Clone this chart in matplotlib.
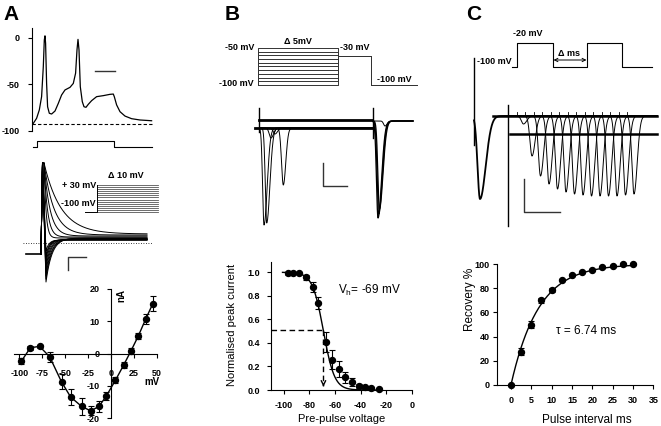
import numpy as np
import matplotlib
matplotlib.use("Agg")
import matplotlib.pyplot as plt
from matplotlib.ticker import FormatStrFormatter

plt.rcParams['font.family'] = ['Liberation Sans', 'DejaVu Sans']
plt.rcParams['mathtext.fontset'] = 'custom'
plt.rcParams['mathtext.rm'] = 'Liberation Sans'
plt.rcParams['mathtext.it'] = 'Liberation Sans:italic'
plt.rcParams['axes.unicode_minus'] = False

W, H, DPI = 661, 426, 100

# ---------------- data ----------------
# Panel A top: current-clamp firing trace (ms, mV)
ap_t = [0, 3.3, 6, 8.3, 10, 11, 11.7, 12.3, 13.3, 14.3, 16, 18.3, 21.7, 25, 28.3, 31.7,
        36.7, 40, 42.3, 43.7, 44.7, 45.7, 47, 49, 50.7, 52.7, 55, 58.3, 63.3, 70, 76.7,
        80, 81, 83.3, 86.7, 91.7, 98.3, 106.7, 118.3]
ap_v = [-91.8, -86.4, -77.5, -63.2, -31.1, -2.5, 2.0, -6, -49, -74, -81, -81.8, -78.6,
        -70.4, -61.4, -56, -53.2, -49, -38, -13, -1.8, -13, -52.5, -68.6, -74, -74.6,
        -71.4, -67.5, -63.2, -62.1, -60.7, -60.4, -63.2, -72, -79.3, -84, -86.8, -88.2, -89]
rest_v = -92
a_stim_t = [0, 3.3, 3.3, 81, 81, 118.3]
a_stim_lvl = [0, 0, 1, 1, 0, 0]

# Panel A middle: step-evoked currents (arbitrary units)
a_steps_mv = list(range(-100, 31, 10))
out_tau = [17, 10, 6, 3.5, 2]            # +30 .. -10 mV
out_end = [20, 19, 18, 17, 16]
in_dip = [-28, -25, -22, -18, -14, -10, -6, -2, 3]   # -20 .. -100 mV
in_end = [16, 15.5, 15, 15, 14.5, 14.5, 14, 14, 14]
in_tau = [6, 5.5, 5, 4.5, 4, 3.5, 3, 3, 3]

# Panel A bottom: I-V relation
iv_v = [-98, -88, -78, -67, -54, -44, -32, -22, -13, -5, 5, 14, 22, 30, 38, 46]
iv_i = [-2.4, 1.8, 2.2, -1.0, -8.8, -13.5, -16.4, -17.8, -16.4, -13.2, -8.3, -3.6, 0.8, 5.4, 10.6, 15.5]
iv_err = [0.9, 0.6, 0.5, 1.5, 2.3, 2.6, 2.6, 1.4, 1.8, 1.3, 0.9, 1.0, 1.0, 1.0, 1.5, 2.3]

# Panel B top: protocol and currents
b_pre_mv = list(range(-100, -49, 5))
b_dip_t = [14, 16.7, 21, 25, 33.3]
b_dip_depth = [-97, -95, -10, -6, -57]
b_dip2_t = [128, 128.7, 129.4]
b_dip2_depth = [-97, -93, -88]

# Panel B bottom: steady-state inactivation
ssi_v = [-97, -92.5, -88, -83, -77.5, -73, -67, -62, -57, -52, -47, -41.5, -36.5, -31.5, -25.5]
ssi_i = [0.99, 0.995, 0.995, 0.957, 0.875, 0.739, 0.41, 0.256, 0.18, 0.108, 0.065, 0.034, 0.023, 0.014, 0.006]
ssi_err = [0.01, 0.01, 0.01, 0.02, 0.04, 0.055, 0.085, 0.08, 0.07, 0.045, 0.035, 0.02, 0.015, 0.01, 0.01]
v_half, k_slope = -69, 4.3

# Panel C top: paired-pulse currents
c_dip_t = [63.5 + 8.5 * i for i in range(14)]
c_dip_depth = [-8, -40, -60, -68, -73, -76, -78, -79, -80, -80, -80, -80, -79, -78]

# Panel C bottom: recovery from inactivation
rec_t = [0, 2.5, 5, 7.5, 10, 12.5, 15, 17.5, 20, 22.5, 25, 27.5, 30]
rec_p = [0, 27.4, 50, 70, 78.5, 87, 91, 93.5, 95, 97.3, 98.6, 100, 100]
rec_err = [0, 3, 3, 2, 1.5, 1, 1, 1, 1, 1, 0.5, 0.5, 0.5]
tau_rec = 6.74

# ---------------- figure ----------------
fig = plt.figure(figsize=(W / DPI, H / DPI), dpi=DPI)


def box(x0, y0, x1, y1):
    return fig.add_axes([x0 / W, 1 - y1 / H, (x1 - x0) / W, (y1 - y0) / H])


def ftext(x, y, s, **kw):
    kw.setdefault('va', 'center')
    fig.text(x / W, 1 - y / H, s, **kw)


def adip(t, tm, depth, wl, wr):
    w = np.where(t < tm, wl, wr)
    return depth * np.exp(-((t - tm) / w) ** 2)


TK = dict(fontsize=6.5, fontweight='bold')
LW = 0.8


def style_axes(ax):
    for s in ['top', 'right']:
        ax.spines[s].set_visible(False)
    for s in ['left', 'bottom']:
        ax.spines[s].set_linewidth(LW)
    ax.tick_params(width=LW, length=3, direction='out')
    for lab in ax.get_xticklabels() + ax.get_yticklabels():
        lab.set_fontsize(6.5)
        lab.set_fontweight('bold')


# panel letters
for x, s in [(3, 'A'), (225, 'B'), (466, 'C')]:
    fig.text(x / W, 1 - 20 / H, s, fontsize=15, fontweight='bold', va='baseline')

# ---- A top ----
ax = box(32, 28, 155, 131)
ax.plot(ap_t, ap_v, color='k', lw=0.9)
ax.plot([-1.7, 118.3], [rest_v, rest_v], color='k', lw=0.8, ls=(0, (3, 2)))
ax.plot([61.5, 81.5], [-36, -36], color='#333333', lw=1.0)
ax.set_xlim(-1.3, 121.7)
ax.set_ylim(-100, 10.4)
ax.set_yticks([0, -50, -100])
ax.set_xticks([])
ax.spines['bottom'].set_visible(False)
style_axes(ax)
ax.tick_params(axis='y', pad=6)

ax = box(32, 136, 155, 150)
ax.plot(a_stim_t, a_stim_lvl, color='k', lw=0.8)
ax.set_xlim(-1.3, 121.7)
ax.set_ylim(-0.636, 1.909)
ax.axis('off')

# ---- A middle ----
ax = box(20, 150, 170, 290)
ax.set_xlim(0, 150)
ax.set_ylim(-36, 104)
ax.axis('off')
t = np.linspace(24, 127, 500)
ax.plot([6, 21], [0, 0], color='k', lw=1.2)
for tau, end in zip(out_tau, out_end):
    y = end + (91 - end) * np.exp(-(t - 24) / tau)
    ax.plot(np.r_[21, 22.5, t], np.r_[0, 91, y], color='k', lw=0.7)
t2 = np.linspace(26, 127, 500)
for d, end, tau in zip(in_dip, in_end, in_tau):
    y = end + (d - end) * np.exp(-(t2 - 26) / tau)
    ax.plot(np.r_[21, 22.5, t2], np.r_[0, 91, y], color='k', lw=0.7)
ax.plot([3, 133], [11, 11], color='k', lw=0.6, ls=(0, (1, 2)))
ax.plot([48, 48, 66], [-16, -3, -3], color='#333333', lw=1.0)

ax = box(85, 183, 160, 214)
ax.set_xlim(0, 75)
ax.set_ylim(-109.6, 39.6)
ax.axis('off')
for mv in a_steps_mv:
    ax.plot([12, 73], [mv, mv], color='#555555', lw=0.6)
ax.plot([0, 12, 12], [-100, -100, 30], color='k', lw=0.7)
ftext(126, 175, 'Δ 10 mV', ha='center', **TK)
ftext(96, 186, '+ 30 mV', ha='right', **TK)
ftext(96, 203, '-100 mV', ha='right', **TK)

# ---- A bottom (I-V) ----
ax = box(14, 289, 157, 418)
ax.plot(iv_v, iv_i, color='k', lw=1.0)
ax.errorbar(iv_v, iv_i, yerr=iv_err, fmt='o', color='k', ms=4.3, capsize=2.2,
            elinewidth=0.8, capthick=0.8, zorder=3, clip_on=False)
ax.set_xlim(-106, 50.5)
ax.set_ylim(-20, 20)
ax.spines['left'].set_position(('data', 0))
ax.spines['bottom'].set_position(('data', 0))
ax.set_xticks([-100, -75, -50, -25, 0, 25, 50])
ax.set_yticks([20, 10, 0, -10, -20])
style_axes(ax)
ax.tick_params(axis='x', pad=8)
ax.tick_params(axis='y', pad=5)
ftext(152, 382, 'mV', ha='center', fontsize=7, fontweight='bold')
ftext(121, 296, 'nA', ha='center', rotation=90, fontsize=7, fontweight='bold')

# ---- B top: protocol ----
ax = box(250, 40, 420, 92)
ax.set_xlim(0, 170)
ax.set_ylim(-109.5, -39.2)
ax.axis('off')
test_disp = -60.8
for mv in b_pre_mv:
    ax.plot([8, 8, 88, 88, 121, 121, 167], [-100, mv, mv, test_disp, test_disp, -100, -100],
            color='#333333', lw=0.7)
ftext(254, 48, '-50 mV', ha='right', **TK)
ftext(254, 84, '-100 mV', ha='right', **TK)
ftext(298, 41, 'Δ 5mV', ha='center', **TK)
ftext(340, 48, '-30 mV', ha='left', **TK)
ftext(377, 80, '-100 mV', ha='left', **TK)

# ---- B top: currents ----
ax = box(250, 100, 420, 230)
ax.set_xlim(0, 170)
ax.set_ylim(-105, 25)
ax.axis('off')
ax.plot([9, 122], [5, 5], color='k', lw=2.0)
ax.plot([5, 122], [-3, -3], color='k', lw=2.0)
ax.plot([9, 9], [17, -7], color='k', lw=1.0)
tb = np.linspace(10, 122, 800)
for tm, d in zip(b_dip_t, b_dip_depth):
    wl, wr = (2.0, 4.5) if d < -80 else (2.5, 3.5)
    ax.plot(tb, -3 + adip(tb, tm, d, wl, wr), color='k', lw=0.7)
ax.plot([123, 123], [17, -13], color='k', lw=1.0)
tb2 = np.linspace(123, 163, 400)
for tm, d in zip(b_dip2_t, b_dip2_depth):
    ax.plot(tb2, 4 + adip(tb2, tm, d, 2.2, 5.0), color='k', lw=0.9)
ax.plot(tb2, 4 + adip(tb2, 135, -5, 2, 3), color='k', lw=0.7)
ax.plot([73, 73, 97], [-38, -61, -61], color='#333333', lw=1.0)

# ---- B bottom ----
ax = box(271, 261.7, 411.7, 390)
vv = np.linspace(-101, -25, 300)
ax.plot(vv, 1 / (1 + np.exp((vv - v_half) / k_slope)), color='k', lw=1.0)
ax.errorbar(ssi_v, ssi_i, yerr=ssi_err, fmt='o', color='k', ms=4.3, capsize=2.2,
            elinewidth=0.8, capthick=0.8, zorder=3, clip_on=False)
ax.plot([-110, v_half], [0.51, 0.51], color='k', lw=1.0, ls=(0, (4, 2.5)))
ax.plot([v_half, v_half], [0.51, 0.03], color='k', lw=1.0, ls=(0, (4, 2.5)))
ax.annotate('', xy=(v_half, 0.005), xytext=(v_half, 0.07),
            arrowprops=dict(arrowstyle='->', color='k', lw=1.0, mutation_scale=8))
ax.set_xlim(-110, 0)
ax.set_ylim(0, 1.09)
ax.set_xticks([-100, -80, -60, -40, -20, 0])
ax.set_yticks([0, 0.2, 0.4, 0.6, 0.8, 1.0])
ax.yaxis.set_major_formatter(FormatStrFormatter('%.1f'))
style_axes(ax)
ax.tick_params(pad=5)
ftext(232, 325, 'Normalised peak current', ha='center', rotation=90, fontsize=8)
ftext(342, 419, 'Pre-pulse voltage', ha='center', fontsize=8)
ftext(338, 290, 'V$_\\mathregular{h}$= -69 mV', ha='left', fontsize=8.5)

# ---- C top: protocol ----
ax = box(460, 30, 660, 75)
ax.set_xlim(0, 200)
ax.set_ylim(-126.7, 23.3)
ax.axis('off')
c_stim_t = [52, 57, 57, 93, 93, 127, 127, 162, 162, 192]
c_stim_v = [-100, -100, -20, -20, -100, -100, -20, -20, -100, -100]
ax.plot(c_stim_t, c_stim_v, color='k', lw=0.8)
ax.annotate('', xy=(93.5, -76.7), xytext=(126.5, -76.7),
            arrowprops=dict(arrowstyle='<->', color='k', lw=0.7, mutation_scale=6,
                            shrinkA=0, shrinkB=0))
ftext(513, 34, '-20 mV', ha='left', **TK)
ftext(512, 62, '-100 mV', ha='right', **TK)
ftext(569, 53, 'Δ ms', ha='center', **TK)

# ---- C top: currents ----
ax = box(460, 50, 660, 235)
ax.set_xlim(0, 200)
ax.set_ylim(-119, 66)
ax.axis('off')
ax.plot([14, 14], [58, -29], color='k', lw=1.0)
tc = np.linspace(14, 48, 300)
ax.plot(tc, adip(tc, 20, -83, 3.5, 8), color='k', lw=1.3)
ax.plot([33, 197], [0, 0], color='k', lw=1.8)
ax.plot([48, 48], [11, -110], color='k', lw=1.0)
ax.plot([50, 197], [-18, -18], color='k', lw=1.8)
tcc = np.linspace(49, 197, 1500)
for tm, d in zip(c_dip_t, c_dip_depth):
    ax.plot(tcc, adip(tcc, tm, d, 3.0, 4.5), color='k', lw=0.7)
    ax.plot([tm - 7, tm - 7], [0, 4], color='k', lw=0.6)
ax.plot([64, 64, 100], [-63, -96, -96], color='#333333', lw=1.0)

# ---- C bottom ----
ax = box(496.7, 264, 653.3, 385)
tt = np.linspace(0, 30, 300)
ax.plot(tt, 100 * (1 - np.exp(-tt / tau_rec)), color='k', lw=1.0)
ax.errorbar(rec_t, rec_p, yerr=rec_err, fmt='o', color='k', ms=4.3, capsize=2.2,
            elinewidth=0.8, capthick=0.8, zorder=3, clip_on=False)
ax.set_xlim(-3.5, 35)
ax.set_ylim(0, 100)
ax.set_xticks(range(0, 36, 5))
ax.set_yticks(range(0, 101, 20))
style_axes(ax)
ax.tick_params(axis='x', pad=5)
ax.tick_params(axis='y', pad=2)
ftext(470, 299, 'Recovery %', ha='center', rotation=90, fontsize=8.5)
ftext(587, 420, 'Pulse interval ms', ha='center', fontsize=8.5)
ftext(556, 331, 'τ = 6.74 ms', ha='left', fontsize=8.5)

fig.savefig('out.png', dpi=DPI)
